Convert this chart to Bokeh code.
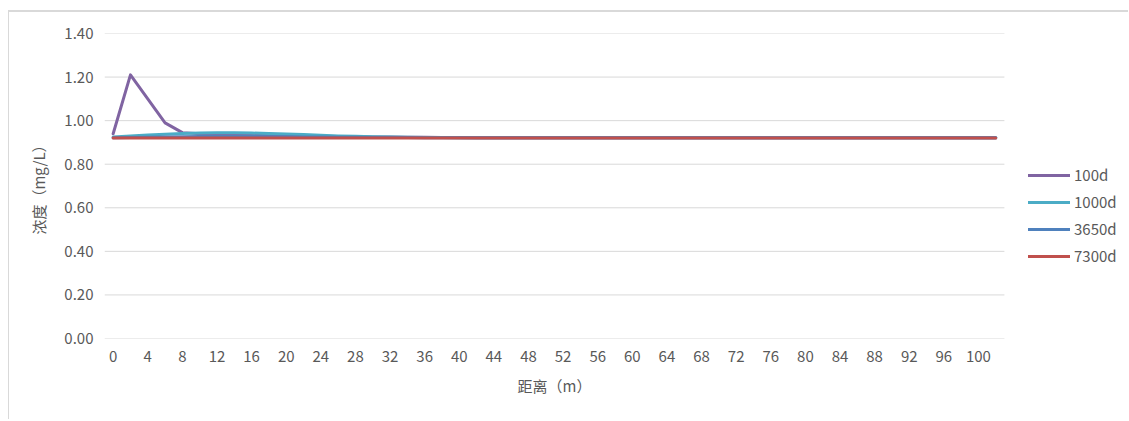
from bokeh.plotting import figure
from bokeh.models import (FixedTicker, Legend, LegendItem, NumeralTickFormatter,
                          Range1d, ColumnDataSource, Title)
from bokeh.embed import file_html
from bokeh.resources import INLINE

# ---- data ----
distance = [0, 2, 4, 6, 8, 10, 12, 14, 16, 18, 20, 22, 24, 26, 28, 30, 32, 34, 36, 38,
            40, 42, 44, 46, 48, 50, 52, 54, 56, 58, 60, 62, 64, 66, 68, 70, 72, 74, 76, 78,
            80, 82, 84, 86, 88, 90, 92, 94, 96, 98, 100, 102]

c_100d = [0.940, 1.210, 1.100, 0.990, 0.945, 0.940, 0.938, 0.936, 0.934, 0.932,
          0.930, 0.929, 0.928, 0.927, 0.926, 0.925, 0.925, 0.924, 0.924, 0.923,
          0.923, 0.922, 0.922, 0.922, 0.922, 0.922, 0.922, 0.922, 0.922, 0.922,
          0.922, 0.922, 0.921, 0.921, 0.921, 0.921, 0.921, 0.921, 0.921, 0.921,
          0.921, 0.921, 0.921, 0.921, 0.921, 0.921, 0.921, 0.921, 0.921, 0.921,
          0.921, 0.921]

c_1000d = [0.925, 0.930, 0.934, 0.938, 0.941, 0.943, 0.944, 0.944, 0.943, 0.941,
           0.939, 0.936, 0.933, 0.930, 0.928, 0.926, 0.925, 0.924, 0.923, 0.923,
           0.922, 0.922, 0.922, 0.922, 0.922, 0.922, 0.922, 0.922, 0.922, 0.922,
           0.922, 0.921, 0.921, 0.921, 0.921, 0.921, 0.921, 0.921, 0.921, 0.921,
           0.921, 0.921, 0.921, 0.921, 0.921, 0.921, 0.921, 0.921, 0.921, 0.921,
           0.921, 0.921]

c_3650d = [0.922, 0.923, 0.924, 0.925, 0.926, 0.927, 0.927, 0.927, 0.927, 0.926,
           0.926, 0.925, 0.925, 0.924, 0.924, 0.923, 0.923, 0.923, 0.922, 0.922,
           0.922, 0.922, 0.922, 0.922, 0.922, 0.922, 0.921, 0.921, 0.921, 0.921,
           0.921, 0.921, 0.921, 0.921, 0.921, 0.921, 0.921, 0.921, 0.921, 0.921,
           0.921, 0.921, 0.921, 0.921, 0.921, 0.921, 0.921, 0.921, 0.921, 0.921,
           0.921, 0.921]

c_7300d = [0.920, 0.920, 0.920, 0.920, 0.920, 0.920, 0.920, 0.920, 0.920, 0.920,
           0.920, 0.920, 0.920, 0.920, 0.920, 0.920, 0.920, 0.920, 0.920, 0.920,
           0.920, 0.920, 0.920, 0.920, 0.920, 0.920, 0.920, 0.920, 0.920, 0.920,
           0.920, 0.920, 0.920, 0.920, 0.920, 0.920, 0.920, 0.920, 0.920, 0.920,
           0.920, 0.920, 0.920, 0.920, 0.920, 0.920, 0.920, 0.920, 0.920, 0.920,
           0.920, 0.920]

series_names = ["100d", "1000d", "3650d", "7300d"]
series_colors = ["#8064A2", "#4BACC6", "#4F81BD", "#C0504D"]

x_ticks = [0, 4, 8, 12, 16, 20, 24, 28, 32, 36, 40, 44, 48, 52, 56, 60, 64, 68, 72,
           76, 80, 84, 88, 92, 96, 100]
y_ticks = [0.0, 0.2, 0.4, 0.6, 0.8, 1.0, 1.2, 1.4]

x_title = "距离（m）"
y_title = "浓度（mg/L）"

FONT = "Noto Sans CJK SC"
TXT = "#595959"

source = ColumnDataSource(dict(x=distance, s0=c_100d, s1=c_1000d, s2=c_3650d, s3=c_7300d))

# category axis: half a category step of padding on each side of the plot area
step = distance[1] - distance[0]
x_lo = distance[0] - step / 2
x_hi = distance[-1] + step / 2

p = figure(width=1120, height=409, output_backend="svg", toolbar_location=None,
           x_range=Range1d(-1, 116.3), y_range=Range1d(0, 1.4),
           min_border_left=95, min_border_right=10, min_border_top=21,
           min_border_bottom=83,
           styles={"margin-left": "8px", "margin-top": "10px",
                   "border-top": "2px solid #d9d9d9",
                   "border-left": "1px solid #d9d9d9"})
p.outline_line_color = None
p.background_fill_color = "white"
p.border_fill_color = "white"

# horizontal gridlines limited to the plot area (legend sits to the right)
p.xgrid.visible = False
p.ygrid.visible = False
p.segment(x0=[x_lo] * len(y_ticks), x1=[x_hi] * len(y_ticks), y0=y_ticks, y1=y_ticks,
          line_color="#d9d9d9", line_width=1)

renderers = []
for i, (name, col) in enumerate(zip(series_names, series_colors)):
    r = p.line("x", "s%d" % i, source=source, line_color=col, line_width=3,
               line_join="round", line_cap="round")
    renderers.append(r)

# axes
p.xaxis.ticker = FixedTicker(ticks=x_ticks)
p.yaxis.ticker = FixedTicker(ticks=y_ticks)
p.yaxis.formatter = NumeralTickFormatter(format="0.00")
for ax in (p.xaxis[0], p.yaxis[0]):
    ax.axis_line_color = None
    ax.major_tick_line_color = None
    ax.minor_tick_line_color = None
    ax.major_tick_out = 0
    ax.major_tick_in = 0
    ax.major_label_text_font = FONT
    ax.major_label_text_font_size = "15px"
    ax.major_label_text_color = TXT
    ax.axis_label_text_font = FONT
    ax.axis_label_text_font_size = "15px"
    ax.axis_label_text_color = TXT
    ax.axis_label_text_font_style = "normal"

p.xaxis.major_label_standoff = 12
p.yaxis.major_label_standoff = 11
p.yaxis.axis_label = y_title
p.yaxis.axis_label_standoff = 12

# x axis title (placed under the plotting area, not under the whole frame)
xt = Title(text=x_title, align="left", offset=413, standoff=16,
           text_font=FONT, text_font_size="15px", text_color=TXT,
           text_font_style="normal")
p.add_layout(xt, "below")

legend = Legend(items=[LegendItem(label=n, renderers=[r]) for n, r in zip(series_names, renderers)],
                location=(924, 72), orientation="vertical",
                glyph_width=42, glyph_height=20, label_height=20, spacing=6,
                padding=0, margin=0, label_standoff=4,
                label_text_font=FONT, label_text_font_size="15px",
                label_text_color=TXT, background_fill_alpha=0,
                border_line_color=None)
p.add_layout(legend, "center")

open("out.html", "w").write(file_html(p, INLINE))
